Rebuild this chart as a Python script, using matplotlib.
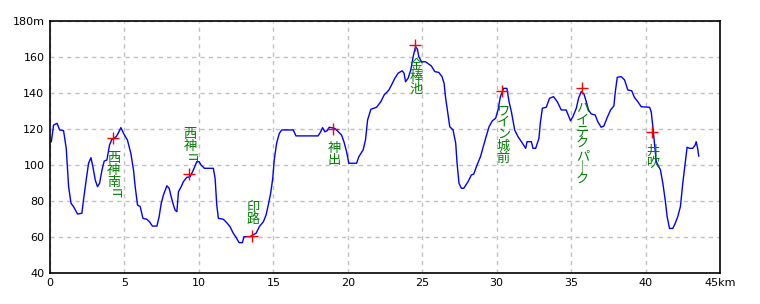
import matplotlib
matplotlib.use("Agg")
import matplotlib.pyplot as plt
import numpy as np

# elevation profile
dist = [0.09, 0.24, 0.47, 0.65, 0.91, 1.09, 1.25, 1.41, 1.58, 1.85, 2.14, 2.25, 2.43, 2.59,
        2.75, 2.88, 3.04, 3.19, 3.33, 3.49, 3.64, 3.82, 4.0, 4.16, 4.45, 4.6, 4.76, 4.94,
        5.2, 5.43, 5.61, 5.72, 5.88, 6.06, 6.24, 6.5, 6.68, 6.88, 7.18, 7.33, 7.47, 7.62,
        7.85, 8.0, 8.14, 8.29, 8.4, 8.52, 8.63, 8.81, 8.96, 9.19, 9.41, 9.63, 9.86, 10.01,
        10.15, 10.37, 10.97, 11.09, 11.2, 11.31, 11.64, 11.87, 12.09, 12.31, 12.47, 12.7,
        12.92, 13.03, 13.43, 13.84, 14.06, 14.33, 14.51, 14.66, 14.82, 14.96, 15.06, 15.22,
        15.4, 15.56, 16.34, 16.52, 18.01, 18.18, 18.31, 18.46, 18.62, 18.75, 19.13, 19.58,
        19.74, 19.92, 20.07, 20.59, 20.74, 21.03, 21.19, 21.33, 21.55, 21.93, 22.22, 22.44,
        22.76, 22.94, 23.16, 23.38, 23.65, 23.78, 23.88, 24.05, 24.23, 24.39, 24.55, 24.68,
        24.77, 24.95, 25.22, 25.62, 25.84, 26.11, 26.33, 26.47, 26.56, 26.69, 26.85, 27.07,
        27.25, 27.34, 27.47, 27.63, 27.79, 28.08, 28.3, 28.46, 28.68, 28.91, 29.13, 29.26,
        29.49, 29.71, 29.93, 30.09, 30.25, 30.38, 30.47, 30.69, 30.83, 30.99, 31.21, 31.43,
        31.66, 31.95, 32.04, 32.33, 32.44, 32.62, 32.84, 32.93, 33.07, 33.33, 33.55, 33.82,
        34.07, 34.34, 34.67, 34.83, 34.96, 35.12, 35.35, 35.5, 35.68, 35.86, 36.02, 36.17,
        36.35, 36.62, 36.79, 37.02, 37.2, 37.43, 37.65, 37.87, 37.97, 38.1, 38.37, 38.59,
        38.81, 39.07, 39.25, 39.48, 39.71, 40.27, 40.38, 40.49, 40.6, 40.72, 40.87, 41.0,
        41.16, 41.32, 41.45, 41.61, 41.83, 41.99, 42.16, 42.34, 42.5, 42.66, 42.79, 42.95,
        43.17, 43.33, 43.4, 43.5, 43.57]
elev = [112.8, 122, 123, 119.3, 118.9, 109.1, 87.8, 78.6, 76.7, 72.6, 73, 80.4, 91.5, 100.8,
        103.9, 98.9, 91.5, 87.8, 89.7, 97, 102, 102.6, 111, 114.1, 115.6, 117.8, 120.6, 117.4,
        113.7, 106.3, 97, 87.8, 77.6, 76.7, 70.2, 69.7, 68.3, 65.9, 65.9, 71.1, 78.6, 83.2,
        88.3, 86.9, 82.2, 77.6, 74.8, 73.9, 85, 87.8, 90.6, 93, 93.3, 97.1, 101.7, 101.7,
        99.8, 98, 98, 92.4, 77.6, 70.2, 69.7, 67.8, 65.6, 61.9, 60, 56.7,
        56.7, 60, 60, 61.9, 65.6, 68.3, 72, 77.6, 84.1, 92.4, 102.6, 111.9,
        117.4, 119.3, 119.3, 116, 116, 118.3, 120.6, 118.3, 118.9, 120.8, 120.2, 116.5,
        112.8, 107.2, 100.8, 100.8, 104.4, 108.2, 113.7, 124.8, 130.8, 131.9, 135, 138.7,
        141.5, 144.3, 148, 150.8, 152.2, 150.8, 146.1, 148, 152.6, 160, 165.6, 164.1,
        160, 157.2, 157.2, 154.8, 151.7, 151.3, 148.9, 145.2, 137.8, 130.4, 121.1, 119.3,
        111.9, 100.8, 89.7, 86.9, 86.9, 90.6, 94.3, 94.8, 99.8, 104.4, 110.9, 114.7,
        121.1, 124.4, 125.8, 130.4, 137.8, 140.6, 142.4, 142.4, 135, 129.4, 119.3, 115.6,
        112.8, 109.1, 112.8, 112.8, 109.1, 109.1, 114.7, 123, 131.4, 131.9, 136.9, 137.8,
        135, 130.4, 130.4, 127.1, 124.4, 126.7, 131.4, 136.9, 140.6, 139.3, 135, 130.4,
        128.2, 127.6, 123.9, 120.8, 121.5, 126.3, 130.4, 132.6, 140.6, 148.6, 148.9, 147.1,
        141.5, 141.1, 137.4, 135, 132.2, 131.9, 129.4, 121.1, 111.9, 101.7, 99.3, 97.1,
        89.7, 80.4, 71.1, 64.6, 64.6, 67.4, 71.1, 76.7, 89.7, 100.8, 109.7, 109.1,
        109.1, 110.9, 112.8, 109.1, 104.8]

# waypoints
wp_names = ["西神南", "西神", "印路", "神出", "金棒池", "ワイン城前", "ハイテクパ｜ク", "井吹"]
wp_suffix = ["IT", "IT", "", "", "", "", "", ""]
wp_km = [4.22, 9.34, 13.6, 19.0, 24.5, 30.38, 35.7, 40.4]
wp_m = [114.8, 94.7, 60.4, 120.0, 166.5, 141.2, 142.4, 118.3]
wp_above = [False, True, True, False, False, False, False, False]

xticks = [0, 5, 10, 15, 20, 25, 30, 35, 40, 45]
xlabels = ["0", "5", "10", "15", "20", "25", "30", "35", "40", "45km"]
yticks = [40, 60, 80, 100, 120, 140, 160, 180]
ylabels = ["40", "60", "80", "100", "120", "140", "160", "180m"]

fig = plt.figure(figsize=(7.6, 3.04), dpi=100)
ax = fig.add_axes([50/760, 31.3/304, 670/760, 252/304])

ax.plot(dist, elev, color="#0000ff", lw=1.0)
ax.plot(wp_km, wp_m, ls="none", marker="+", ms=9, mew=1.0, color="#ff0000")

jp = ["Noto Sans CJK JP", "DejaVu Sans"]
step = 12  # pixels per character
for name, suf, x, y, up in zip(wp_names, wp_suffix, wp_km, wp_m, wp_above):
    chars = list(name)
    n = len(chars) + (1 if suf else 0)
    if up:
        start = 10 + (n - 1) * step + 6
    else:
        start = -20
    for i, ch in enumerate(chars):
        ax.annotate(ch, (x, y), xytext=(1, start - i * step), textcoords="offset pixels",
                    ha="center", va="center", fontsize=9.5, color="#008000", family=jp)
    if suf:
        ax.annotate(suf, (x, y), xytext=(1, start - len(chars) * step), textcoords="offset pixels",
                    ha="center", va="center", fontsize=9, color="#008000", rotation=-90,
                    family=jp)

ax.set_xlim(0, 45)
ax.set_ylim(40, 180)
ax.set_xticks(xticks)
ax.set_xticklabels(xlabels)
ax.set_yticks(yticks)
ax.set_yticklabels(ylabels)
ax.tick_params(length=0, labelsize=8, pad=4)
ax.grid(True, color="#c0c0c0", ls=(0, (3, 3)), lw=1)
for s in ax.spines.values():
    s.set_linewidth(1.2)
ax.set_axisbelow(True)

fig.savefig("out.png", dpi=100)
